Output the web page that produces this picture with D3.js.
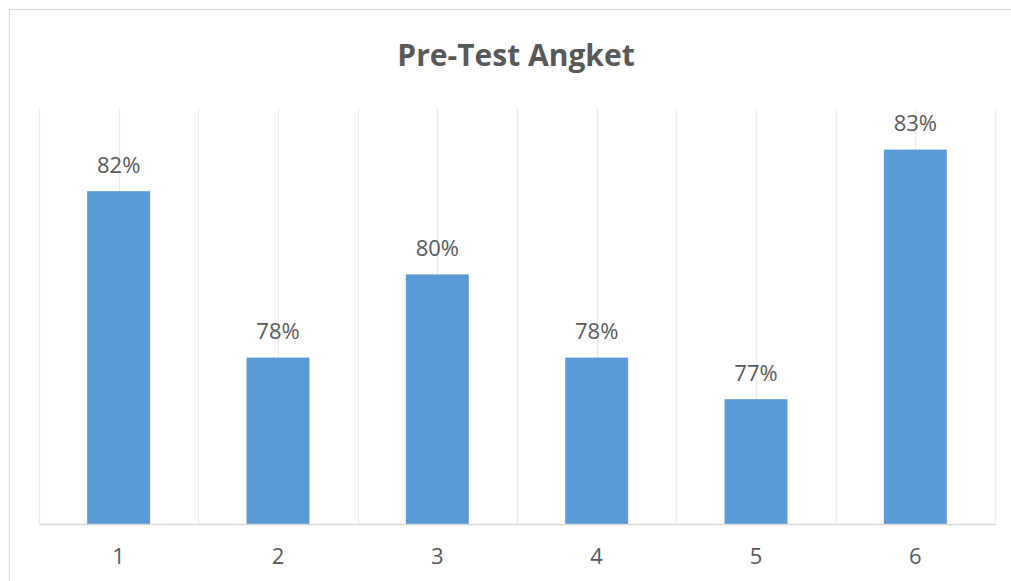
<!DOCTYPE html>
<html>
<head>
<meta charset="utf-8">
<script src="https://cdn.jsdelivr.net/npm/d3@7"></script>
<style>
  html, body { margin: 0; padding: 0; background: #fff; }
  svg { display: block; }
</style>
</head>
<body>
<svg id="chart" width="1011" height="581"></svg>
<script>
const title = "Pre-Test Angket";
const categories = ["1", "2", "3", "4", "5", "6"];
const values = [0.82, 0.78, 0.80, 0.78, 0.77, 0.83];
const yDomain = [0.74, 0.84];

const W = 1011, H = 581;
const plot = { left: 39, right: 995, top: 108, bottom: 524 };
const svg = d3.select("#chart");
const font = "'Open Sans', 'Liberation Sans', sans-serif";

// chart frame
svg.append("rect")
  .attr("x", 9.5).attr("y", 9.5)
  .attr("width", 1010).attr("height", 600)
  .attr("fill", "#fff").attr("stroke", "#d9d9d9").attr("stroke-width", 1.2);

const x = d3.scaleBand().domain(categories).range([plot.left, plot.right]).paddingInner(0.605).paddingOuter(0.3025);
const xOuter = d3.scaleBand().domain(categories).range([plot.left, plot.right]);
const y = d3.scaleLinear().domain(yDomain).range([plot.bottom, plot.top]);

// vertical gridlines (category boundaries and centers)
const gridX = [];
categories.forEach(c => { gridX.push(xOuter(c)); gridX.push(xOuter(c) + xOuter.bandwidth() / 2); });
gridX.push(plot.right);
svg.append("g").selectAll("line").data(gridX).join("line")
  .attr("x1", d => Math.round(d) + 0.5).attr("x2", d => Math.round(d) + 0.5)
  .attr("y1", plot.top).attr("y2", plot.bottom)
  .attr("stroke", "#ebebeb").attr("stroke-width", 1.2);

// bars
svg.append("g").selectAll("rect").data(values).join("rect")
  .attr("x", (d, i) => x(categories[i]))
  .attr("width", x.bandwidth())
  .attr("y", d => y(d))
  .attr("height", d => y(yDomain[0]) - y(d))
  .attr("fill", "#5b9bd5");

// data labels
svg.append("g").selectAll("text").data(values).join("text")
  .attr("x", (d, i) => x(categories[i]) + x.bandwidth() / 2)
  .attr("y", d => y(d) - 18.5)
  .attr("text-anchor", "middle")
  .attr("font-family", font).attr("font-size", 22)
  .attr("fill", "#595959")
  .text(d => d3.format(".0%")(d));

// x axis
const xAxis = d3.axisBottom(xOuter).tickSize(0).tickPadding(0);
const gx = svg.append("g").attr("transform", `translate(0,${plot.bottom})`).call(xAxis);
gx.select(".domain").attr("stroke", "#d9d9d9").attr("stroke-width", 1.5);
gx.selectAll("text")
  .attr("y", 40).attr("dy", null)
  .attr("font-family", font).attr("font-size", 22)
  .attr("fill", "#595959");

// title
svg.append("text")
  .attr("x", 516).attr("y", 66)
  .attr("text-anchor", "middle")
  .attr("font-family", font).attr("font-size", 30).attr("font-weight", "bold")
  .attr("fill", "#595959")
  .text(title);
</script>
</body>
</html>
